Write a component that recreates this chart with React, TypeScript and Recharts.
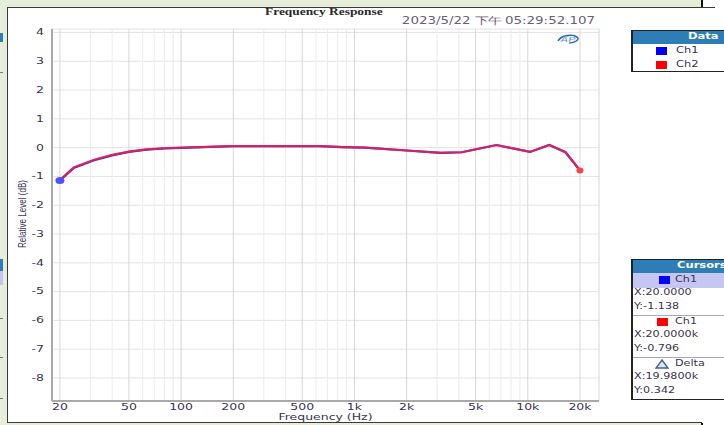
import React from 'react';
import { LineChart, Line, XAxis, YAxis, CartesianGrid, ReferenceLine, Label } from 'recharts';

// ---------- data ----------
const freqs = [20, 24, 31.5, 40, 50, 63, 80, 100, 200, 400, 630, 850, 1150, 2000, 3150, 4150, 5200, 6600, 10300, 13300, 16500, 20000];
const ch1Level = [-1.138, -0.71, -0.44, -0.27, -0.15, -0.07, -0.03, -0.01, 0.05, 0.05, 0.05, 0.02, 0.0, -0.1, -0.18, -0.16, -0.04, 0.09, -0.15, 0.09, -0.16, -0.79];
const ch2Level = [-1.13, -0.69, -0.42, -0.25, -0.14, -0.06, -0.02, 0.0, 0.05, 0.05, 0.05, 0.02, 0.0, -0.1, -0.18, -0.16, -0.04, 0.09, -0.15, 0.09, -0.16, -0.796];
const xTicks = [20, 50, 100, 200, 500, 1000, 2000, 5000, 10000, 20000];
const xTickLabels = ['20', '50', '100', '200', '500', '1k', '2k', '5k', '10k', '20k'];
const xMinorGrid = [30, 40, 60, 70, 80, 90, 300, 400, 600, 700, 800, 900, 3000, 4000, 6000, 7000, 8000, 9000];
const yTicks = [4, 3, 2, 1, 0, -1, -2, -3, -4, -5, -6, -7, -8];
const xDomain = [18, 25750];
const yDomain = [-8.8, 4.12];

const titleText = 'Frequency Response';
const timeText = '2023/5/22 下午 05:29:52.107';
const xLabelText = 'Frequency (Hz)';
const yLabelText = 'Relative Level (dB)';
const legendItems = [
  { name: 'Ch1', color: '#0000ff' },
  { name: 'Ch2', color: '#ff0000' },
];
const cursorRows = ['X:20.0000', 'Y:-1.138', 'X:20.0000k', 'Y:-0.796', 'X:19.9800k', 'Y:0.342'];

const data = freqs.map((f, i) => ({ f, ch1: ch1Level[i], ch2: ch2Level[i] }));

const SQ = 0.72; // vertical squish of the screenshot text
const GREEN = '#e6eed9';
const TXT = '#3a3350';

const YTick = (props: any) => {
  const { x, y, payload } = props;
  return (
    <text
      x={x}
      y={y}
      textAnchor="end"
      dominantBaseline="central"
      fontSize={12.5}
      fontFamily="DejaVu Sans"
      fill={TXT}
      transform={`translate(0 ${y}) scale(1 ${SQ}) translate(0 ${-y})`}
    >
      {String(payload.value)}
    </text>
  );
};

const XTick = (props: any) => {
  const { x, y, payload } = props;
  const idx = xTicks.indexOf(payload.value);
  const cy = y + 6.5;
  return (
    <text
      x={x}
      y={cy}
      textAnchor="middle"
      dominantBaseline="central"
      fontSize={12.5}
      fontFamily="DejaVu Sans"
      fill={TXT}
      transform={`translate(0 ${cy}) scale(1 ${SQ}) translate(0 ${-cy})`}
    >
      {idx >= 0 ? xTickLabels[idx] : String(payload.value)}
    </text>
  );
};

const XLabel = (props: any) => {
  const vb = props.viewBox || {};
  const cx = vb.x + vb.width / 2;
  const cy = vb.y + 16;
  return (
    <text
      x={cx}
      y={cy}
      textAnchor="middle"
      dominantBaseline="central"
      fontSize={12.5}
      fontFamily="DejaVu Sans"
      fill={TXT}
      transform={`translate(0 ${cy}) scale(1 ${SQ}) translate(0 ${-cy})`}
    >
      {xLabelText}
    </text>
  );
};

const YLabel = (props: any) => {
  const vb = props.viewBox || {};
  const cx = vb.x + 14;
  const cy = vb.y + vb.height / 2 - 1;
  return (
    <text
      x={0}
      y={0}
      textAnchor="middle"
      dominantBaseline="central"
      fontSize={11.2}
      fontFamily="Liberation Sans"
      fill={TXT}
      transform={`translate(${cx} ${cy}) scale(1 ${SQ}) rotate(-90)`}
    >
      {yLabelText}
    </text>
  );
};

const ch1Dot = (props: any) => {
  const { cx, cy, index } = props;
  if (index !== 0) return <g key={`d1-${index}`} />;
  return <ellipse key={`d1-${index}`} cx={cx} cy={cy} rx={4.5} ry={3.5} fill="#5050ff" />;
};
const ch2Dot = (props: any) => {
  const { cx, cy, index } = props;
  if (index !== freqs.length - 1) return <g key={`d2-${index}`} />;
  return <ellipse key={`d2-${index}`} cx={cx} cy={cy} rx={3.5} ry={3} fill="#ff4040" />;
};

const SText = ({ x, y, children, size = 11.2, color = TXT, bold = false, anchor = 'left', family = 'DejaVu Sans', spacing = 0 }: any) => (
  <div
    style={{
      position: 'absolute',
      left: anchor === 'left' ? x : undefined,
      right: anchor === 'right' ? 724 - x : undefined,
      top: y,
      whiteSpace: 'nowrap',
      fontFamily: family,
      fontSize: size,
      fontWeight: bold ? 'bold' : 'normal',
      color,
      letterSpacing: spacing,
      lineHeight: 1,
      transform: `translateY(-50%) scaleY(${SQ})`,
      transformOrigin: 'center',
    }}
  >
    {children}
  </div>
);

const abs = (l: number, t: number, w: number, h: number, extra: any = {}) => ({
  position: 'absolute' as const,
  left: l,
  top: t,
  width: w,
  height: h,
  ...extra,
});

export default function App() {
  return (
    <div style={{ position: 'fixed', left: 0, top: 0, width: 724, height: 425, overflow: 'hidden', background: '#ffffff' }}>
      {/* outer window frame */}
      <div style={abs(0, 0, 702, 7, { background: GREEN })} />
      <div style={abs(0, 0, 7, 425, { background: GREEN })} />
      <div style={abs(0, 423, 702, 2, { background: GREEN })} />
      <div style={abs(701, 0, 2, 7, { background: '#111' })} />
      <div style={abs(701, 423, 2, 2, { background: '#111' })} />
      <div style={abs(7, 7, 708, 1, { background: '#3a3a3a' })} />
      <div style={abs(7, 7, 1, 416, { background: '#3a3a3a' })} />
      <div style={abs(7, 422, 695, 1, { background: '#3a3a3a' })} />
      {/* remnants of neighbouring window at the left edge */}
      <div style={abs(0, 33, 3, 9, { background: '#2d7db6' })} />
      <div style={abs(0, 72, 3, 1, { background: '#777' })} />
      <div style={abs(0, 259, 3, 12, { background: '#2d7db6' })} />
      <div style={abs(0, 271, 3, 14, { background: '#c4c4f2' })} />
      <div style={abs(0, 318, 3, 1, { background: '#777' })} />
      <div style={abs(0, 357, 3, 1, { background: '#777' })} />
      <div style={abs(0, 398, 3, 1, { background: '#777' })} />

      {/* title and timestamp */}
      <SText x={265} y={11.5} size={13.4} bold family="Liberation Serif" color="#2a2a2a">{titleText}</SText>
      <SText x={595} y={21} size={13.4} anchor="right" color="#6a6078">{timeText}</SText>

      {/* AP logo */}
      <svg style={abs(555, 32, 26, 14)} width={26} height={14}>
        <path d="M3,9 C6,3 18,2 22,5 C25,7 21,11 14,11" fill="none" stroke="#2a6cc0" strokeWidth={1.6} />
        <text x={13} y={10} textAnchor="middle" fontSize={11} fontStyle="italic" fontWeight="bold" fontFamily="Liberation Sans" fill="#2a6cc0" stroke="#ffffff" strokeWidth={0.5} transform={`translate(0 10) scale(1 ${SQ}) translate(0 -10)`}>AP</text>
      </svg>

      {/* chart */}
      <div style={abs(0, 0, 724, 425)}>
        <LineChart width={724} height={425} data={data} margin={{ top: 29, right: 125, bottom: 0, left: 8 }}>
          <CartesianGrid horizontal={true} vertical={false} stroke="#e3e3e3" strokeWidth={1} />
          <CartesianGrid horizontal={false} vertical={true} stroke="#d6d6d6" strokeWidth={1} />
          {xMinorGrid.map((g) => (
            <ReferenceLine key={`mg-${g}`} x={g} stroke="#ececec" strokeWidth={1} />
          ))}
          <XAxis
            dataKey="f"
            type="number"
            scale="log"
            domain={xDomain}
            allowDataOverflow
            ticks={xTicks}
            interval={0}
            height={24}
            tickSize={0}
            tickMargin={0}
            tickLine={false}
            tick={<XTick />}
            axisLine={{ stroke: '#a9a9a9', strokeWidth: 2 }}
          >
            <Label content={<XLabel />} />
          </XAxis>
          <XAxis
            xAxisId="top"
            orientation="top"
            dataKey="f"
            type="number"
            scale="log"
            domain={xDomain}
            allowDataOverflow
            height={0}
            tick={false}
            tickLine={false}
            axisLine={{ stroke: '#a9a9a9', strokeWidth: 2 }}
          />
          <YAxis
            type="number"
            domain={yDomain}
            allowDataOverflow
            ticks={yTicks}
            interval={0}
            width={44}
            tickSize={0}
            tickMargin={8}
            tickLine={false}
            tick={<YTick />}
            axisLine={{ stroke: '#a9a9a9', strokeWidth: 2 }}
          >
            <Label content={<YLabel />} />
          </YAxis>
          <YAxis
            yAxisId="right"
            orientation="right"
            type="number"
            domain={yDomain}
            allowDataOverflow
            width={0}
            tick={false}
            tickLine={false}
            axisLine={{ stroke: '#a9a9a9', strokeWidth: 2 }}
          />
          <Line dataKey="ch1" name="Ch1" stroke="#2a2aff" strokeWidth={2.2} dot={ch1Dot} activeDot={false} isAnimationActive={false} />
          <Line dataKey="ch2" name="Ch2" stroke="#f02045" strokeOpacity={0.86} strokeWidth={2.2} dot={ch2Dot} activeDot={false} isAnimationActive={false} />
        </LineChart>
      </div>

      {/* Data legend box */}
      <div style={abs(631, 30, 110, 42, { border: '1px solid #222', borderLeftWidth: 2, boxSizing: 'border-box', background: '#fff' })}>
        <div style={abs(0, 0, 110, 13, { background: '#2d7db6' })} />
      </div>
      <SText x={688} y={37} bold color="#ffffff" size={11.5}>Data</SText>
      {legendItems.map((it, i) => (
        <React.Fragment key={it.name}>
          <div style={abs(656, 47 + i * 14, 11, 8, { background: it.color })} />
          <SText x={676} y={51 + i * 14} size={11.5}>{it.name}</SText>
        </React.Fragment>
      ))}

      {/* Cursor box */}
      <div style={abs(631, 259, 110, 141, { border: '1px solid #222', borderLeftWidth: 2, boxSizing: 'border-box', background: '#fff' })}>
        <div style={abs(0, 0, 110, 13, { background: '#2d7db6' })} />
        <div style={abs(0, 13, 110, 15, { background: '#c6c6f3' })} />
        <div style={abs(0, 55, 110, 1, { background: '#a8a8b8' })} />
        <div style={abs(0, 97, 110, 1, { background: '#a8a8b8' })} />
      </div>
      <SText x={677} y={266} bold color="#ffffff" size={11.5}>Cursors</SText>
      <div style={abs(659, 276, 11, 8, { background: '#0000ff' })} />
      <SText x={675} y={280} size={11.2}>Ch1</SText>
      <SText x={634} y={293} size={11.2}>{cursorRows[0]}</SText>
      <SText x={634} y={307} size={11.2}>{cursorRows[1]}</SText>
      <div style={abs(657, 318, 11, 8, { background: '#ff0000' })} />
      <SText x={675} y={322} size={11.2}>Ch1</SText>
      <SText x={634} y={335} size={11.2}>{cursorRows[2]}</SText>
      <SText x={634} y={349} size={11.2}>{cursorRows[3]}</SText>
      <svg style={abs(655, 359, 14, 10)} width={14} height={10}>
        <polygon points="7,1 13,9 1,9" fill="#dfe6f2" stroke="#3d6496" strokeWidth={1.4} />
      </svg>
      <SText x={675} y={364} size={11.2}>Delta</SText>
      <SText x={634} y={377} size={11.2}>{cursorRows[4]}</SText>
      <SText x={634} y={391} size={11.2}>{cursorRows[5]}</SText>
    </div>
  );
}
